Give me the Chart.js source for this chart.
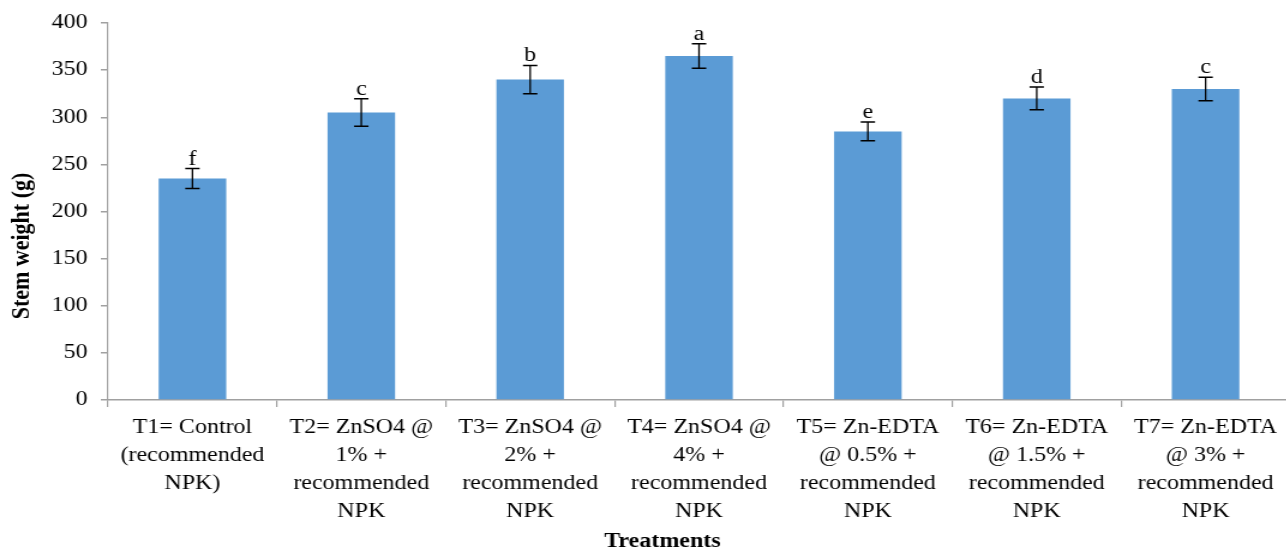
<!DOCTYPE html>
<html>
<head>
<meta charset="utf-8">
<script src="https://cdn.jsdelivr.net/npm/chart.js@4"></script>
<style>
    html, body { margin: 0; padding: 0; background: #fff; overflow: hidden; }
    #stemChart { display: block; }
</style>
</head>
<body>
<!-- the reference is stretched sideways, so the canvas is drawn narrow and shown wide -->
<canvas id="stemChart" width="1075" height="552" style="width:1290px;height:552px"></canvas>
<script>
// Treatments on the x axis
const treatments = [
    ['T1= Control', '(recommended', 'NPK)'],
    ['T2= ZnSO4 @', '1% +', 'recommended', 'NPK'],
    ['T3= ZnSO4 @', '2% +', 'recommended', 'NPK'],
    ['T4= ZnSO4 @', '4% +', 'recommended', 'NPK'],
    ['T5= Zn-EDTA', '@ 0.5% +', 'recommended', 'NPK'],
    ['T6= Zn-EDTA', '@ 1.5% +', 'recommended', 'NPK'],
    ['T7= Zn-EDTA', '@ 3% +', 'recommended', 'NPK']
];
// Stem weight (g) and its error
const stemWeight = [235, 305, 340, 365, 285, 320, 330];
const stemError = [10.5, 14.5, 15, 13, 10, 12, 12.5];
// Significance letters above each bar
const letters = ['f', 'c', 'b', 'a', 'e', 'd', 'c'];
// Y axis range
const yMin = 0;
const yMax = 400;
const yStep = 50;

const serif = '"Liberation Serif", "Times New Roman", serif';
const axisGrey = '#a0a0a0';

// Draws the error bars, the letters and the two axis titles
const extrasPlugin = {
    id: 'extras',
    afterDatasetsDraw(chart) {
        const ctx = chart.ctx;
        const meta = chart.getDatasetMeta(0);
        const yScale = chart.scales.y;
        ctx.save();
        ctx.strokeStyle = '#000';
        ctx.fillStyle = '#000';
        ctx.font = '20px ' + serif;
        ctx.textAlign = 'center';
        ctx.textBaseline = 'alphabetic';
        meta.data.forEach((bar, i) => {
            const x = bar.x;
            const top = yScale.getPixelForValue(stemWeight[i] + stemError[i]);
            const bottom = yScale.getPixelForValue(stemWeight[i] - stemError[i]);
            ctx.lineWidth = 1.3;
            ctx.beginPath();
            ctx.moveTo(x, top);
            ctx.lineTo(x, bottom);
            ctx.stroke();
            ctx.lineWidth = 1.5;
            ctx.beginPath();
            ctx.moveTo(x - 6, top);
            ctx.lineTo(x + 6, top);
            ctx.moveTo(x - 6, bottom);
            ctx.lineTo(x + 6, bottom);
            ctx.stroke();
            ctx.fillText(letters[i], x, top - 4);
        });
        ctx.restore();
    },
    afterDraw(chart) {
        const ctx = chart.ctx;
        ctx.save();
        ctx.fillStyle = '#000';
        ctx.textAlign = 'center';
        ctx.textBaseline = 'middle';
        // x axis title
        ctx.font = 'bold 20px ' + serif;
        ctx.fillText('Treatments', 552, 542);
        // y axis title
        ctx.font = 'bold 22px ' + serif;
        ctx.translate(18, 246);
        ctx.rotate(-Math.PI / 2);
        ctx.fillText('Stem weight (g)', 0, 0);
        ctx.restore();
    }
};

new Chart(document.getElementById('stemChart'), {
    type: 'bar',
    data: {
        labels: treatments,
        datasets: [{
            data: stemWeight,
            backgroundColor: '#5b9bd5',
            borderWidth: 0,
            categoryPercentage: 1,
            barPercentage: 0.4
        }]
    },
    options: {
        responsive: false,
        animation: false,
        devicePixelRatio: 1,
        layout: { padding: { top: 23, right: 0, left: 0, bottom: 0 } },
        plugins: {
            legend: { display: false },
            tooltip: { enabled: false }
        },
        scales: {
            x: {
                grid: {
                    display: true,
                    drawOnChartArea: false,
                    offset: true,
                    color: axisGrey,
                    lineWidth: 1.2,
                    tickLength: 7
                },
                border: { color: axisGrey, width: 1.5 },
                ticks: {
                    color: '#000',
                    font: { family: serif, size: 20, lineHeight: 1.4 },
                    padding: 7,
                    maxRotation: 0,
                    minRotation: 0,
                    autoSkip: false
                },
                afterFit(scale) { scale.height = 152; }
            },
            y: {
                min: yMin,
                max: yMax,
                grid: {
                    display: true,
                    drawOnChartArea: false,
                    color: axisGrey,
                    lineWidth: 1.5,
                    tickLength: 6
                },
                border: { color: axisGrey, width: 1.2 },
                ticks: {
                    stepSize: yStep,
                    color: '#000',
                    font: { family: serif, size: 20 },
                    padding: 11
                },
                afterFit(scale) { scale.width = 90; }
            }
        }
    },
    plugins: [extrasPlugin]
});
</script>
</body>
</html>
